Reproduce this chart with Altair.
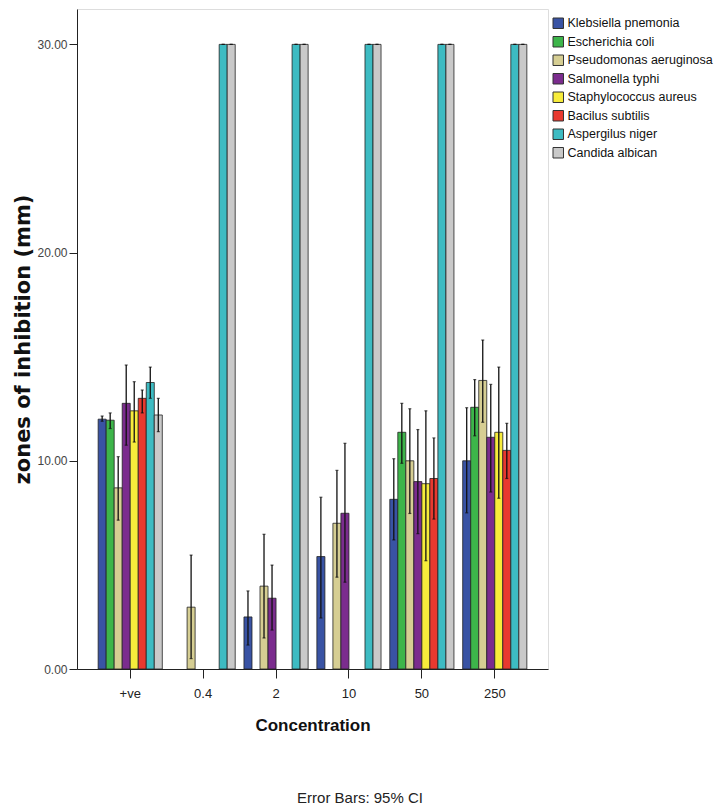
import altair as alt
import pandas as pd

concentrations = ["+ve", "0.4", "2", "10", "50", "250"]
species = ["Klebsiella pnemonia", "Escherichia coli", "Pseudomonas aeruginosa",
           "Salmonella typhi", "Staphylococcus aureus", "Bacilus subtilis",
           "Aspergilus niger", "Candida albican"]
colors = ["#3953A4", "#3DB54A", "#D6CE93", "#7B2C8E", "#F7EC3B", "#E8392F", "#3DBBC2", "#C9C9C9"]

# mean, CI low, CI high per concentration (None = no zone)
kleb_mean = [12.0, None, 2.5, 5.4, 8.15, 10.0]
kleb_lo = [11.9, None, 1.15, 2.45, 6.2, 7.5]
kleb_hi = [12.15, None, 3.75, 8.25, 10.1, 12.55]

ecoli_mean = [11.95, None, None, None, 11.37, 12.57]
ecoli_lo = [11.55, None, None, None, 9.88, 11.2]
ecoli_hi = [12.3, None, None, None, 12.76, 13.9]

pseudo_mean = [8.7, 2.97, 3.98, 7.0, 10.0, 13.86]
pseudo_lo = [7.15, 0.5, 1.49, 4.41, 7.47, 11.85]
pseudo_hi = [10.2, 5.47, 6.47, 9.54, 12.5, 15.8]

salm_mean = [12.76, None, 3.4, 7.48, 9.0, 11.13]
salm_lo = [10.75, None, 1.87, 4.17, 6.5, 8.5]
salm_hi = [14.6, None, 4.99, 10.84, 11.5, 13.67]

staph_mean = [12.4, None, None, None, 8.9, 11.37]
staph_lo = [10.9, None, None, None, 5.2, 8.2]
staph_hi = [13.8, None, None, None, 12.4, 14.5]

bac_mean = [13.0, None, None, None, 9.15, 10.5]
bac_lo = [12.3, None, None, None, 7.2, 9.15]
bac_hi = [13.4, None, None, None, 11.1, 11.8]

asp_mean = [13.76, 30.0, 30.0, 30.0, 30.0, 30.0]
asp_lo = [13.0, 30.0, 30.0, 30.0, 30.0, 30.0]
asp_hi = [14.5, 30.0, 30.0, 30.0, 30.0, 30.0]

cand_mean = [12.2, 30.0, 30.0, 30.0, 30.0, 30.0]
cand_lo = [11.4, 30.0, 30.0, 30.0, 30.0, 30.0]
cand_hi = [13.0, 30.0, 30.0, 30.0, 30.0, 30.0]

series = [
    (kleb_mean, kleb_lo, kleb_hi), (ecoli_mean, ecoli_lo, ecoli_hi),
    (pseudo_mean, pseudo_lo, pseudo_hi), (salm_mean, salm_lo, salm_hi),
    (staph_mean, staph_lo, staph_hi), (bac_mean, bac_lo, bac_hi),
    (asp_mean, asp_lo, asp_hi), (cand_mean, cand_lo, cand_hi),
]

rows = []
for sp, (m, lo, hi) in zip(species, series):
    for c, mv, lv, hv in zip(concentrations, m, lo, hi):
        if mv is None:
            continue
        rows.append({"conc": c, "species": sp, "mean": mv, "lo": lv, "hi": hv})
df = pd.DataFrame(rows)

FONT = "Liberation Sans"
WIDE = "DejaVu Sans"

xenc = alt.X("conc:N", sort=concentrations,
             scale=alt.Scale(paddingInner=0.12, paddingOuter=0.29),
             axis=alt.Axis(title="Concentration", labelAngle=0, labelFontSize=13,
                           labelFont=FONT, labelColor="#222", tickSize=9,
                           labelPadding=9, titleFontSize=17, titleFont=FONT,
                           titleFontWeight="bold", titlePadding=17, domainColor="#222",
                           tickColor="#222", titleColor="#111"))
xoff = alt.XOffset("species:N", sort=species,
                   scale=alt.Scale(paddingInner=0, paddingOuter=0))
yscale = alt.Scale(domain=[0, 31.7], nice=False, zero=True)

base = alt.Chart(df).encode(x=xenc, xOffset=xoff)

bars = base.mark_bar(stroke="#222", strokeWidth=0.8).encode(
    y=alt.Y("mean:Q", scale=yscale,
            axis=alt.Axis(title="zones of inhibition (mm)", values=[0, 10, 20, 30],
                          format=".2f", grid=False, labelFontSize=12, labelFont=FONT,
                          labelColor="#444", tickSize=8, labelPadding=2,
                          titleFontSize=21, titleFont=WIDE, titleFontWeight="bold",
                          titlePadding=3, domainColor="#222", tickColor="#222",
                          titleColor="#111")),
    color=alt.Color("species:N", sort=species,
                    scale=alt.Scale(domain=species, range=colors),
                    legend=alt.Legend(title=None, orient="none", legendX=475, legendY=8,
                                      symbolType="square", symbolSize=110,
                                      symbolStrokeColor="#333", symbolStrokeWidth=1,
                                      labelFont=FONT, labelFontSize=12.5,
                                      labelColor="#111", rowPadding=3.5, padding=0,
                                      labelOffset=3)),
)

rules = base.mark_rule(color="#111", strokeWidth=1.3).encode(
    y=alt.Y("lo:Q", scale=yscale), y2="hi:Q")
cap_hi = base.mark_tick(color="#111", size=3, thickness=1.2).encode(
    y=alt.Y("hi:Q", scale=yscale))
cap_lo = base.mark_tick(color="#111", size=3, thickness=1.2).encode(
    y=alt.Y("lo:Q", scale=yscale))

note = alt.Chart(pd.DataFrame({"t": ["Error Bars: 95% CI"]})).mark_text(
    font=FONT, fontSize=15, color="#222", align="center", baseline="middle"
).encode(text="t:N", x=alt.value(283), y=alt.value(789))

chart = alt.layer(bars, rules, cap_hi, cap_lo, note).properties(
    width=471, height=660,
    autosize=alt.AutoSizeParams(type="none"),
    padding={"left": 77, "top": 9, "right": 170, "bottom": 142},
).configure_view(fill="#EFEFEF", stroke="#555", strokeWidth=1.2
).configure(background="white")

chart.save("out.html", embed_options={"renderer": "svg", "actions": False})
